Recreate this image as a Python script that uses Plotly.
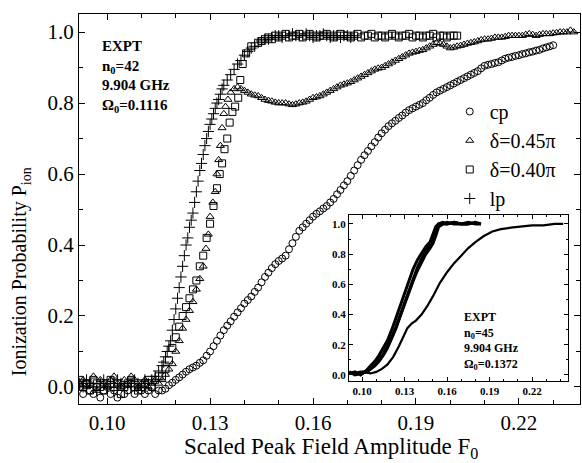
import plotly.graph_objects as go

# --- data ---
F_noise = [0.092, 0.093, 0.094, 0.095, 0.096, 0.097, 0.098, 0.099, 0.100, 0.101, 0.102, 0.103,
           0.104, 0.105, 0.106, 0.107, 0.108, 0.109, 0.110, 0.111, 0.112, 0.113, 0.114, 0.115]

# cp (circles)
cp_F = F_noise + [
    0.116, 0.117, 0.118, 0.119, 0.120, 0.121, 0.122, 0.123, 0.124, 0.125,
    0.126, 0.127, 0.128, 0.129, 0.130, 0.131, 0.132, 0.133, 0.134, 0.135,
    0.136, 0.137, 0.138, 0.139, 0.140, 0.141, 0.142, 0.143, 0.144, 0.145,
    0.146, 0.147, 0.148, 0.149, 0.150, 0.151, 0.152, 0.153, 0.154, 0.155,
    0.156, 0.157, 0.158, 0.159, 0.160, 0.161, 0.162, 0.163, 0.164, 0.165,
    0.166, 0.167, 0.168, 0.169, 0.170, 0.171, 0.172, 0.173, 0.174, 0.175,
    0.176, 0.177, 0.178, 0.179, 0.180, 0.181, 0.182, 0.183, 0.184, 0.185,
    0.186, 0.187, 0.188, 0.189, 0.190, 0.191, 0.192, 0.193, 0.194, 0.195,
    0.196, 0.197, 0.198, 0.199, 0.200, 0.201, 0.202, 0.203, 0.204, 0.205,
    0.206, 0.207, 0.208, 0.209, 0.210, 0.211, 0.212, 0.213, 0.214, 0.215,
    0.216, 0.217, 0.218, 0.219, 0.220, 0.221, 0.222, 0.223, 0.224, 0.225,
    0.226, 0.227, 0.228, 0.229, 0.230]
cp_P = [0.00, -0.02, 0.01, -0.01, -0.02, 0.00, -0.03, -0.01, 0.00, -0.02, -0.01, -0.03,
        0.00, -0.02, -0.01, 0.01, -0.02, 0.00, -0.01, -0.02, -0.01, 0.00, -0.02, -0.01] + [
    -0.01, -0.005, 0.005, 0.012, 0.02, 0.027, 0.035, 0.043, 0.05, 0.055,
    0.06, 0.068, 0.075, 0.088, 0.10, 0.115, 0.13, 0.145, 0.16, 0.173,
    0.185, 0.198, 0.21, 0.222, 0.235, 0.245, 0.255, 0.268, 0.28, 0.295,
    0.31, 0.322, 0.335, 0.346, 0.355, 0.362, 0.37, 0.388, 0.405, 0.423,
    0.44, 0.45, 0.46, 0.47, 0.48, 0.488, 0.495, 0.503, 0.51, 0.52,
    0.53, 0.543, 0.555, 0.568, 0.58, 0.595, 0.61, 0.625, 0.64, 0.653,
    0.665, 0.678, 0.69, 0.703, 0.715, 0.725, 0.735, 0.743, 0.75, 0.758,
    0.765, 0.773, 0.78, 0.785, 0.79, 0.795, 0.80, 0.808, 0.815, 0.823,
    0.83, 0.835, 0.84, 0.845, 0.85, 0.855, 0.86, 0.865, 0.87, 0.875,
    0.88, 0.885, 0.89, 0.898, 0.905, 0.908, 0.91, 0.913, 0.915, 0.92,
    0.925, 0.928, 0.93, 0.933, 0.935, 0.938, 0.94, 0.943, 0.945, 0.948,
    0.95, 0.954, 0.957, 0.96, 0.963]

# delta = 0.45 pi (triangles)
tri_F = F_noise + [
    0.116, 0.117, 0.118, 0.119, 0.120, 0.121, 0.122, 0.123, 0.124, 0.125, 0.126, 0.127,
    0.128, 0.1288, 0.1295, 0.1300, 0.1308, 0.1315, 0.1320, 0.1325, 0.1330, 0.1335,
    0.1340, 0.1345, 0.1352, 0.1360, 0.1370, 0.1380,
    0.139, 0.140, 0.141, 0.142, 0.143, 0.144, 0.145, 0.146, 0.147, 0.148,
    0.149, 0.150, 0.151, 0.152, 0.153, 0.154, 0.155, 0.156, 0.157, 0.158,
    0.159, 0.160, 0.161, 0.162, 0.163, 0.164, 0.165, 0.166, 0.167, 0.168,
    0.169, 0.170, 0.171, 0.172, 0.173, 0.174, 0.175, 0.176, 0.177, 0.178,
    0.179, 0.180, 0.181, 0.182, 0.183, 0.184, 0.185, 0.186, 0.187, 0.188,
    0.189, 0.190, 0.191, 0.192, 0.193, 0.194, 0.195, 0.196, 0.197, 0.198,
    0.199, 0.200, 0.201, 0.202, 0.203, 0.204, 0.205, 0.206, 0.207, 0.208,
    0.209, 0.210, 0.211, 0.212, 0.213, 0.214, 0.215, 0.216, 0.217, 0.218,
    0.219, 0.220, 0.221, 0.222, 0.223, 0.224, 0.225, 0.226, 0.227, 0.228,
    0.229, 0.230, 0.231, 0.232, 0.233, 0.234, 0.235, 0.236]
tri_P = [0.01, 0.02, 0.00, 0.01, 0.03, -0.01, 0.02, 0.01, 0.00, 0.02, 0.03, 0.01,
         0.00, 0.02, 0.01, 0.03, 0.02, 0.00, 0.01, 0.02, 0.00, 0.01, 0.02, 0.01] + [
    0.02, 0.035, 0.05, 0.065, 0.10, 0.13, 0.165, 0.19, 0.215, 0.24, 0.275, 0.305,
    0.34, 0.39, 0.43, 0.48, 0.52, 0.55, 0.60, 0.64, 0.68, 0.73,
    0.77, 0.79, 0.81, 0.83, 0.84, 0.845,
    0.84, 0.835, 0.83, 0.825, 0.822, 0.82, 0.815, 0.81, 0.807, 0.805,
    0.802, 0.80, 0.80, 0.80, 0.797, 0.795, 0.797, 0.80, 0.802, 0.805,
    0.81, 0.815, 0.817, 0.82, 0.825, 0.83, 0.835, 0.84, 0.845, 0.85,
    0.853, 0.856, 0.86, 0.865, 0.87, 0.875, 0.88, 0.885, 0.89, 0.895,
    0.898, 0.90, 0.905, 0.91, 0.915, 0.92, 0.925, 0.93, 0.935, 0.94,
    0.943, 0.945, 0.948, 0.95, 0.955, 0.96, 0.965, 0.97, 0.968, 0.965,
    0.96, 0.955, 0.957, 0.96, 0.962, 0.965, 0.968, 0.97, 0.972, 0.975,
    0.978, 0.98, 0.98, 0.982, 0.985, 0.985, 0.985, 0.987, 0.99, 0.99,
    0.99, 0.99, 0.99, 0.993, 0.995, 0.993, 0.99, 0.993, 0.995, 0.995,
    0.995, 0.997, 0.998, 1.00, 1.00, 1.00, 1.005, 1.00]

# delta = 0.40 pi (squares)
sq_F = F_noise + [
    0.116, 0.117, 0.118, 0.119, 0.120, 0.121, 0.122, 0.123, 0.124, 0.125, 0.126, 0.127,
    0.128, 0.129, 0.130, 0.131, 0.132, 0.1328, 0.1335, 0.1342, 0.1350, 0.1357, 0.1365,
    0.1373, 0.1382, 0.1388, 0.1395, 0.1405, 0.1420, 0.1440,
    0.145, 0.146, 0.147, 0.148, 0.149, 0.150, 0.151, 0.152, 0.153, 0.154,
    0.155, 0.156, 0.157, 0.158, 0.159, 0.160, 0.161, 0.162, 0.163, 0.164,
    0.165, 0.166, 0.167, 0.168, 0.169, 0.170, 0.171, 0.172, 0.173, 0.174,
    0.175, 0.176, 0.177, 0.178, 0.179, 0.180, 0.181, 0.182, 0.183, 0.184,
    0.185, 0.186, 0.187, 0.188, 0.189, 0.190, 0.191, 0.192, 0.193, 0.194,
    0.195, 0.196, 0.197, 0.198, 0.199, 0.200, 0.201, 0.202]
sq_P = [0.02, 0.00, 0.01, -0.01, 0.02, 0.01, 0.00, -0.01, 0.01, 0.02, 0.00, 0.01,
        -0.02, 0.00, 0.01, 0.02, 0.00, -0.01, 0.00, 0.01, 0.02, 0.00, 0.02, 0.03] + [
    0.03, 0.05, 0.075, 0.11, 0.14, 0.17, 0.20, 0.225, 0.25, 0.275, 0.30, 0.34,
    0.37, 0.42, 0.46, 0.51, 0.56, 0.60, 0.63, 0.67, 0.70, 0.745, 0.775,
    0.79, 0.815, 0.865, 0.91, 0.94, 0.96, 0.97,
    0.975, 0.98, 0.985, 0.98, 0.99, 0.985, 0.99, 0.995, 0.985, 0.99,
    0.99, 0.995, 0.985, 0.99, 0.995, 0.99, 0.985, 0.99, 0.99, 0.995,
    0.99, 0.985, 0.99, 0.995, 0.99, 0.99, 0.985, 0.99, 0.995, 0.985,
    0.99, 0.99, 0.995, 0.985, 0.99, 0.99, 0.985, 0.99, 0.995, 0.99,
    0.985, 0.99, 0.99, 0.995, 0.985, 0.99, 0.99, 0.985, 0.99, 0.99,
    0.995, 0.985, 0.99, 0.99, 0.985, 0.99, 0.99, 0.99]

# lp (plus)
lp_F = F_noise[:23] + [
    0.115, 0.116, 0.1165, 0.117, 0.1175, 0.118, 0.1185, 0.119, 0.1195, 0.120,
    0.1205, 0.121, 0.1215, 0.122, 0.1225, 0.123, 0.1235, 0.124, 0.1245, 0.125,
    0.1255, 0.126, 0.1265, 0.127, 0.1275, 0.128, 0.1285, 0.129, 0.1295, 0.130,
    0.1305, 0.131, 0.1315, 0.132, 0.1325, 0.133, 0.1335, 0.134, 0.135, 0.136,
    0.137, 0.138, 0.139, 0.140, 0.141, 0.142, 0.143, 0.144, 0.145,
    0.146, 0.147, 0.148, 0.149, 0.150, 0.151, 0.152, 0.153, 0.154, 0.155,
    0.156, 0.157, 0.158, 0.159, 0.160, 0.161, 0.162, 0.163, 0.164, 0.165,
    0.166, 0.167, 0.168, 0.169, 0.170, 0.171, 0.172]
lp_P = [0.01, 0.00, 0.02, 0.01, 0.00, -0.01, 0.01, 0.02, 0.00, 0.01, 0.00, 0.02,
        0.01, 0.00, 0.01, 0.00, 0.02, 0.01, 0.00, 0.02, 0.01, 0.02, 0.03] + [
    0.045, 0.06, 0.07, 0.085, 0.10, 0.115, 0.13, 0.16, 0.19, 0.22,
    0.25, 0.28, 0.31, 0.34, 0.37, 0.40, 0.42, 0.45, 0.47, 0.49,
    0.52, 0.55, 0.58, 0.61, 0.63, 0.655, 0.68, 0.70, 0.72, 0.74,
    0.755, 0.77, 0.785, 0.80, 0.81, 0.825, 0.84, 0.85, 0.865, 0.88,
    0.895, 0.91, 0.92, 0.935, 0.945, 0.955, 0.96, 0.97, 0.975,
    0.98, 0.98, 0.985, 0.99, 0.99, 0.985, 0.99, 0.99, 0.995, 0.99,
    0.99, 0.99, 0.995, 0.99, 0.985, 0.99, 0.99, 0.995, 0.99, 0.985,
    0.99, 0.99, 0.985, 0.99, 0.99, 0.985, 0.99]

# inset, n0 = 45
in_lp_F = [0.091, 0.095, 0.099, 0.103, 0.106, 0.109, 0.112, 0.115, 0.118, 0.121, 0.124, 0.127, 0.130,
           0.133, 0.136, 0.139, 0.142, 0.145, 0.148, 0.150, 0.152, 0.154, 0.157, 0.160, 0.165, 0.170,
           0.175, 0.180, 0.184]
in_lp_P = [0.01, 0.02, 0.00, 0.03, 0.06, 0.09, 0.13, 0.18, 0.23, 0.30, 0.38, 0.47, 0.55,
           0.63, 0.70, 0.76, 0.81, 0.85, 0.88, 0.93, 0.98, 1.00, 1.01, 1.00, 1.01, 1.00,
           1.01, 1.00, 1.00]
in_sq_F = [0.091, 0.095, 0.099, 0.103, 0.106, 0.109, 0.112, 0.115, 0.118, 0.121, 0.124, 0.127, 0.130,
           0.133, 0.136, 0.139, 0.142, 0.145, 0.148, 0.150, 0.152, 0.154, 0.157, 0.160, 0.165, 0.170,
           0.175]
in_sq_P = [0.02, 0.00, 0.01, 0.02, 0.04, 0.07, 0.10, 0.14, 0.19, 0.25, 0.32, 0.40, 0.48,
           0.56, 0.64, 0.71, 0.77, 0.82, 0.86, 0.90, 0.95, 0.99, 1.00, 1.01, 1.00, 1.00,
           1.00]
in_tri_F = [0.091, 0.095, 0.099, 0.103, 0.106, 0.109, 0.112, 0.115, 0.118, 0.121, 0.124, 0.127, 0.130,
            0.133, 0.136, 0.139, 0.142, 0.145, 0.148, 0.150, 0.152, 0.154, 0.157, 0.160, 0.165, 0.170,
            0.175, 0.180, 0.184]
in_tri_P = [0.01, 0.01, 0.02, 0.02, 0.04, 0.06, 0.09, 0.13, 0.18, 0.24, 0.31, 0.39, 0.47,
            0.55, 0.62, 0.69, 0.75, 0.80, 0.84, 0.87, 0.92, 0.98, 1.00, 1.00, 1.01, 1.00,
            1.00, 1.01, 1.00]
in_cp_F = [0.091, 0.096, 0.101, 0.106, 0.110, 0.114, 0.118, 0.122, 0.126, 0.129, 0.132, 0.135, 0.138,
           0.142, 0.146, 0.150, 0.155, 0.160, 0.165, 0.170, 0.175, 0.180, 0.186, 0.192, 0.198, 0.205,
           0.212, 0.220, 0.228, 0.236, 0.242]
in_cp_P = [0.02, 0.01, 0.02, 0.01, 0.02, 0.04, 0.07, 0.12, 0.19, 0.25, 0.31, 0.34, 0.36,
           0.40, 0.455, 0.52, 0.61, 0.68, 0.74, 0.79, 0.84, 0.88, 0.92, 0.95, 0.965, 0.975,
           0.98, 0.99, 0.99, 1.00, 1.00]

SERIF = "Liberation Serif"

fig = go.Figure()

# main panel
def mk(symbol, size):
    return dict(symbol=symbol, size=size, color="black", line=dict(color="black", width=1))

fig.add_trace(go.Scatter(x=cp_F, y=cp_P, mode="markers", name="cp", marker=mk("circle-open", 7)))
fig.add_trace(go.Scatter(x=tri_F, y=tri_P, mode="markers", name="δ=0.45π", marker=mk("triangle-up-open", 7)))
fig.add_trace(go.Scatter(x=sq_F, y=sq_P, mode="markers", name="δ=0.40π", marker=mk("square-open", 7)))
fig.add_trace(go.Scatter(x=lp_F, y=lp_P, mode="markers", name="lp", marker=mk("cross-thin-open", 8)))

# inset
for fx, py, w in [(in_cp_F, in_cp_P, 2.2), (in_tri_F, in_tri_P, 3), (in_sq_F, in_sq_P, 3), (in_lp_F, in_lp_P, 3)]:
    fig.add_trace(go.Scatter(x=fx, y=py, mode="lines", line=dict(color="black", width=w),
                             xaxis="x2", yaxis="y2", showlegend=False))

axis_common = dict(showline=True, linecolor="black", linewidth=1.3, mirror="ticks",
                   ticks="inside", tickcolor="black", showgrid=False, zeroline=False)

fig.update_layout(
    width=582, height=463,
    margin=dict(l=79, r=2, t=14, b=59),
    paper_bgcolor="white", plot_bgcolor="white",
    font=dict(family=SERIF, color="black"),
    xaxis=dict(range=[0.0918, 0.2378], tick0=0.10, dtick=0.03, tickformat=".2f", ticklen=6,
               tickfont=dict(size=21, family=SERIF),
               minor=dict(dtick=0.01, tick0=0.10, ticks="inside", ticklen=4, tickcolor="black"),
               **axis_common),
    yaxis=dict(range=[-0.048, 1.051], tick0=0, dtick=0.2, tickformat=".1f", ticklen=6,
               tickfont=dict(size=21, family=SERIF),
               minor=dict(dtick=0.1, tick0=0, ticks="inside", ticklen=4, tickcolor="black"),
               **axis_common),
    xaxis2=dict(domain=[0.539, 0.976], anchor="y2", range=[0.0908, 0.2454], tick0=0.10, dtick=0.03,
                tickformat=".2f", ticklen=4,
                tickfont=dict(size=11, family=SERIF, weight="bold"),
                minor=dict(dtick=0.01, tick0=0.10, ticks="inside", ticklen=2, tickcolor="black"),
                **axis_common),
    yaxis2=dict(domain=[0.059, 0.485], anchor="x2", range=[-0.04, 1.06], tick0=0, dtick=0.2,
                tickformat=".1f", ticklen=4,
                tickfont=dict(size=11, family=SERIF, weight="bold"),
                minor=dict(dtick=0.1, tick0=0, ticks="inside", ticklen=2, tickcolor="black"),
                **axis_common),
    legend=dict(x=0.74, y=0.80, xanchor="left", yanchor="top", bgcolor="rgba(0,0,0,0)",
                font=dict(size=20, family=SERIF), tracegroupgap=0),
    showlegend=True,
)

fig.add_annotation(xref="paper", yref="paper", x=0.042, y=0.943, xanchor="left", yanchor="top",
                   align="left", showarrow=False, font=dict(size=15, family=SERIF),
                   text="<b>EXPT<br>n<sub>0</sub>=42<br>9.904 GHz<br>Ω<sub>0</sub>=0.1116</b>")
fig.add_annotation(xref="paper", yref="paper", x=0.765, y=0.245, xanchor="left", yanchor="top",
                   align="left", showarrow=False, font=dict(size=12, family=SERIF),
                   text="<b>EXPT<br>n<sub>0</sub>=45<br>9.904 GHz<br>Ω<sub>0</sub>=0.1372</b>")
fig.add_annotation(xref="paper", yref="paper", x=-0.116, y=0.34, xanchor="center", yanchor="middle",
                   textangle=-90, showarrow=False, font=dict(size=20, family=SERIF),
                   text="Ionization Probability P<sub>ion</sub>")
fig.add_annotation(xref="paper", yref="paper", x=0.503, y=-0.112, xanchor="center", yanchor="middle",
                   showarrow=False, font=dict(size=23, family=SERIF),
                   text="Scaled Peak Field Amplitude F<sub>0</sub>")

# drop the browser's default body margin so the figure sits at the window corner
fig.write_html("out.html", config={"displayModeBar": False},
               post_script="document.body.style.margin='0px';")
